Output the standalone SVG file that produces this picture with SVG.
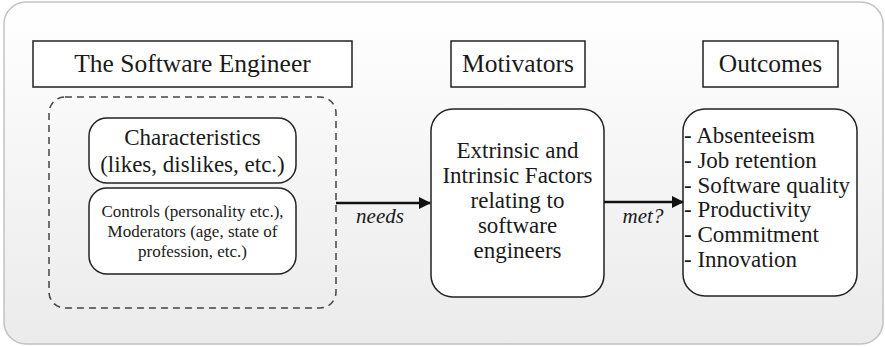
<svg xmlns="http://www.w3.org/2000/svg" width="885" height="347" viewBox="0 0 885 347">
<style>
.box{fill:#fff;stroke:#222;stroke-width:1.5}
.conn{stroke:#111;stroke-width:2.5;fill:none}
</style>
<defs>
<linearGradient id="bg" x1="0" y1="0" x2="0" y2="1">
<stop offset="0" stop-color="#ffffff"/>
<stop offset="1" stop-color="#ebebeb"/>
</linearGradient>
<marker id="ah" markerWidth="12" markerHeight="12" refX="11" refY="6" orient="auto" markerUnits="userSpaceOnUse">
<path d="M0,0 L12,6 L0,12 Z" fill="#111"/>
</marker>
</defs>
<rect x="4" y="2" width="879" height="342" rx="22" fill="url(#bg)" stroke="#c2c2c2" stroke-width="1.5"/>

<g font-family="Liberation Serif, DejaVu Serif, serif" fill="#1a1a1a">
<g id="title-engineer">
<rect class="box" x="33" y="41" width="319" height="46"/>
<text x="192.5" y="72" font-size="25.5" text-anchor="middle">The Software Engineer</text>
</g>
<g id="title-motivators">
<rect class="box" x="451" y="41" width="134" height="46"/>
<text x="518" y="72" font-size="25.5" text-anchor="middle">Motivators</text>
</g>
<g id="title-outcomes">
<rect class="box" x="703" y="41" width="135" height="46"/>
<text x="770.5" y="72" font-size="25.5" text-anchor="middle">Outcomes</text>
</g>

<g id="engineer-group">
<rect x="49" y="97" width="287" height="211" rx="16" fill="none" stroke="#444" stroke-width="1.5" stroke-dasharray="7 5"/>
</g>
<g id="characteristics">
<rect class="box" x="89" y="118" width="207" height="65" rx="18"/>
<text font-size="23" text-anchor="middle"><tspan x="192.5" y="145">Characteristics</tspan><tspan x="192.5" y="172">(likes, dislikes, etc.)</tspan></text>
</g>
<g id="controls">
<rect class="box" x="89" y="188" width="207" height="86" rx="18"/>
<text font-size="17" text-anchor="middle"><tspan x="192.5" y="217">Controls (personality etc.),</tspan><tspan x="192.5" y="237">Moderators (age, state of</tspan><tspan x="192.5" y="257">profession, etc.)</tspan></text>
</g>
<g id="motivators">
<rect class="box" x="431" y="109" width="173" height="188" rx="22"/>
<text font-size="23" text-anchor="middle"><tspan x="517.5" y="158">Extrinsic and</tspan><tspan x="517.5" y="183">Intrinsic Factors</tspan><tspan x="517.5" y="208">relating to</tspan><tspan x="517.5" y="233">software</tspan><tspan x="517.5" y="258">engineers</tspan></text>
</g>
<g id="outcomes">
<rect class="box" x="683" y="109" width="174" height="187" rx="22"/>
<text font-size="23"><tspan x="684" y="143">- Absenteeism</tspan><tspan x="684" y="168">- Job retention</tspan><tspan x="684" y="193">- Software quality</tspan><tspan x="684" y="217">- Productivity</tspan><tspan x="684" y="242">- Commitment</tspan><tspan x="684" y="267">- Innovation</tspan></text>
</g>

<g id="connectors">
<line class="conn" x1="336" y1="203" x2="430" y2="203" marker-end="url(#ah)"/>
<text x="380" y="223" font-size="21" font-style="italic" text-anchor="middle">needs</text>
<line class="conn" x1="604" y1="202" x2="683" y2="202" marker-end="url(#ah)"/>
<text x="643" y="223" font-size="21" font-style="italic" text-anchor="middle">met?</text>
</g>
</g>
</svg>
